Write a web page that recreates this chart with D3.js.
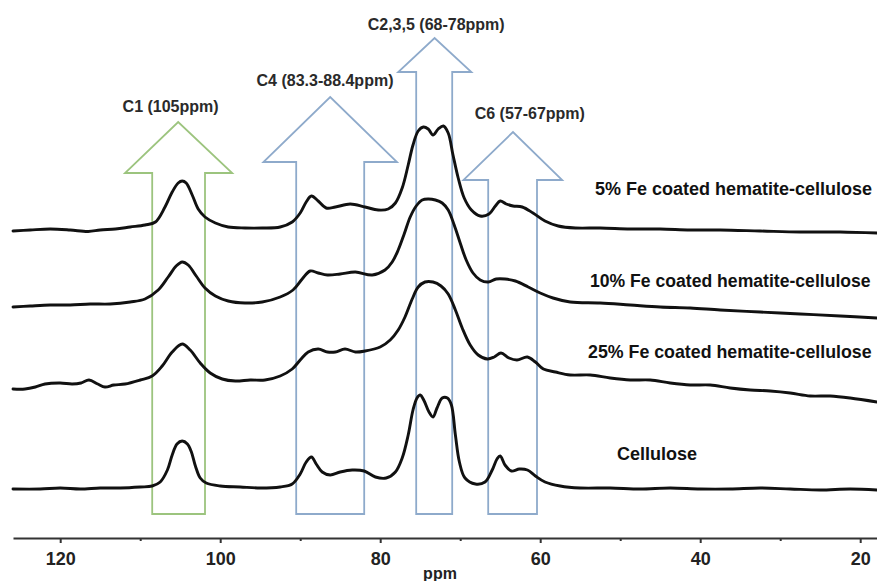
<!DOCTYPE html>
<html>
<head>
<meta charset="utf-8">
<script src="https://cdn.jsdelivr.net/npm/d3@7"></script>
<style>
  html, body { margin: 0; padding: 0; background: #fff; }
  svg { display: block; }
</style>
</head>
<body>
<svg id="chart" width="877" height="581"></svg>
<script>
// ---------------- DATA ----------------
const seriesNames = [
  "5% Fe coated hematite-cellulose",
  "10% Fe coated hematite-cellulose",
  "25% Fe coated hematite-cellulose",
  "Cellulose"
];
// vertical stacking offsets (intensity units)
const seriesOffsets = [308, 231, 149, 49];

// [ppm, relative intensity]
const fe5 = [
  [125.9,-1],[123.75,0],[121.25,1],[118.75,0],[116.5,-1.5],[115,0],[113.1,1],[111.25,3],[109.4,5],[108.1,8],
  [106.9,23],[106,38],[105.25,47],[104.75,49],[104.25,47],[103.5,35],[102.75,21],[101.9,13],[100.6,7],[99,3],
  [96.9,2],[94.75,2],[92.5,3],[91,8],[90,17],[89.25,28],[88.6,34],[87.75,29],[86.75,22],[85.6,23],
  [83.75,26],[81.9,23],[80.25,20],[79,21],[78.1,27],[77.25,42],[76.5,65],[75.9,85],[75.25,99],[74.6,103],
  [74,101],[73.4,95],[72.75,101],[72.1,104],[71.5,97],[70.9,75],[70.25,52],[69.5,32],[68.6,20],[67.5,14],
  [66.4,16],[65.6,24],[65,29],[64.25,26],[63.4,24],[62.25,23],[60.9,17],[59.4,9],[57.75,4],[55.6,2],
  [52.5,2],[48.75,1],[45,1],[41.25,0],[37.5,0],[32.5,-1],[27.5,-2],[22.5,-2],[17.9,-3]
];
const fe10 = [
  [125.9,0],[123.75,1],[121.25,2],[118.75,2],[116.25,3],[113.75,3],[111.25,5],[109.4,8],[107.75,17],[106.5,30],
  [105.5,41],[104.75,45],[104,42],[103,31],[101.9,19],[100.6,11],[99,6],[96.9,4],[94.75,5],[92.5,10],
  [90.9,17],[89.75,28],[88.75,36],[87.75,34],[86.6,32],[85,33],[83.1,35],[81,32],[79.4,37],[78.5,45],
  [77.75,57],[77,73],[76.25,90],[75.5,101],[74.75,107],[74,108],[73.1,107],[72.25,104],[71.5,97],[70.75,82],
  [70,64],[69.25,47],[68.4,34],[67.5,27],[66.5,25],[65.5,28],[64.4,28],[63.1,26],[61.5,20],[60,14],
  [58.4,9],[56.25,5],[52.5,4],[48.75,2],[45,0],[41.25,-1],[37.5,-3],[32.5,-5],[27.5,-7],[22.5,-9],[17.9,-11]
];
const fe25 = [
  [125.9,0],[124.4,0],[123.1,2],[121.9,5],[120,6],[118.5,5],[117.4,6],[116.4,9],[115.3,5],[114.4,2],
  [113.3,4],[111.9,5],[110,9],[108.5,13],[107.25,23],[106,37],[104.75,45],[103.75,39],[102.5,26],[101.25,16],
  [99.75,10],[98.1,8],[96.25,9],[94.4,9],[92.5,13],[91,20],[90,29],[89,37],[87.75,40],[86.6,37],
  [85.6,37],[84.4,40],[83.1,37],[81.9,38],[80,42],[78.75,49],[77.75,59],[76.9,72],[76,90],[75.25,102],
  [74.4,107],[73.4,107],[72.4,103],[71.5,95],[70.6,79],[69.75,61],[68.75,44],[67.75,34],[66.6,30],[65.75,32],
  [64.9,36],[63.9,31],[62.9,29],[61.6,32],[60.6,27],[59.6,20],[58.1,17],[56.25,14],[53.75,14],[51.25,11],
  [48.75,9],[46.25,9],[43.75,6],[41.25,4],[38.75,4],[36.25,1],[33.75,-1],[31.25,-2],[28.75,-4],[26.25,-7],
  [23.75,-7],[21.25,-9],[17.9,-13]
];
const cellulose = [
  [125.9,0],[122.5,0],[120,1],[117.5,0],[115,1],[112.5,1],[110,2],[108.5,3],[107.5,7],[106.6,19],
  [106,34],[105.4,45],[104.75,48],[104.1,45],[103.6,37],[103.1,23],[102.5,11],[101.75,6],[100,3],[97.5,2],
  [95,1],[92.5,2],[91,5],[90,15],[89.25,27],[88.6,32],[88,25],[87.25,17],[86.25,14],[85,17],
  [83.5,19],[82,18],[80.6,12],[79.25,11],[78.1,17],[77.25,31],[76.5,54],[75.9,79],[75.4,91],[75,94],
  [74.5,88],[73.9,77],[73.4,72],[72.9,81],[72.25,91],[71.6,91],[71.1,84],[70.6,54],[70.1,27],[69.4,11],
  [68.1,5],[66.9,7],[66,19],[65.4,30],[65,33],[64.4,24],[63.6,18],[62.6,20],[61.6,19],[60.6,13],
  [59.4,7],[57.5,3],[55,1],[51.25,1],[47.5,0],[43.75,1],[40,0],[36.25,0],[32.5,1],[28.75,0],
  [25,-1],[21.25,0],[17.9,-1]
];
const seriesData = [fe5, fe10, fe25, cellulose];

// assignment annotations
const regionLabels = ["C1 (105ppm)", "C4 (83.3-88.4ppm)", "C2,3,5 (68-78ppm)", "C6 (57-67ppm)"];

const majorTicks = [120, 100, 80, 60, 40, 20];
const minorTicks = [110, 90, 70, 50, 30];
const xTitle = "ppm";

// ---------------- LAYOUT / STYLE ----------------
const svg = d3.select("#chart");
const x = d3.scaleLinear().domain([125.9, 17.9]).range([13, 877]);
const y = d3.scaleLinear().domain([0, 520]).range([538, 18]);

// arrow geometry in chart units
const arrowGeom = [
  {shaft:[108.5,101.9], head:[111.9,98.5], tip:105.25, tipY:416, baseY:365, color:"#9cc47e"},
  {shaft:[90.5,82.0],   head:[94.6,77.9],  tip:86.25,  tipY:441, baseY:376, color:"#8eaacb"},
  {shaft:[75.5,71.0],   head:[77.75,68.6], tip:73.2,   tipY:500, baseY:466, color:"#8eaacb"},
  {shaft:[66.5,60.4],   head:[69.6,57.25], tip:63.4,   tipY:406, baseY:358, color:"#8eaacb"}
];
const arrowBottom = 24;
const labelPos = [
  {ppm:106.2, y:111.5},
  {ppm:86.9,  y:85.5},
  {ppm:73.0,  y:29.5},
  {ppm:61.3,  y:118.5}
];
const seriesLabelPos = [
  {x:595, y:194.5, size:18},
  {x:590, y:286.5, size:17.6},
  {x:588, y:357.5, size:17.8},
  {x:617, y:459.5, size:18}
];

// arrows
const gArrows = svg.append("g");
arrowGeom.forEach((a) => {
  const pts = [
    [x(a.shaft[0]), y(arrowBottom)],
    [x(a.shaft[0]), y(a.baseY)],
    [x(a.head[0]),  y(a.baseY)],
    [x(a.tip),      y(a.tipY)],
    [x(a.head[1]),  y(a.baseY)],
    [x(a.shaft[1]), y(a.baseY)],
    [x(a.shaft[1]), y(arrowBottom)]
  ];
  gArrows.append("path")
    .attr("d", d3.line()(pts) + "Z")
    .attr("fill", "none")
    .attr("stroke", a.color)
    .attr("stroke-width", 1.8)
    .attr("stroke-linejoin", "miter");
});

// region labels
regionLabels.forEach((t, i) => {
  svg.append("text")
    .attr("x", x(labelPos[i].ppm))
    .attr("y", labelPos[i].y)
    .attr("text-anchor", "middle")
    .attr("font-family", "'Liberation Sans', Arial, sans-serif")
    .attr("font-weight", "bold")
    .attr("font-size", 16)
    .attr("fill", "#2a2a2a")
    .text(t);
});

// spectra
const line = d3.line()
  .x(d => x(d[0]))
  .y(d => d[1])
  .curve(d3.curveCatmullRom.alpha(0.5));

seriesData.forEach((s, i) => {
  const pts = s.map(d => [d[0], y(d[1] + seriesOffsets[i])]);
  svg.append("path")
    .attr("d", line(pts))
    .attr("fill", "none")
    .attr("stroke", "#111")
    .attr("stroke-width", 2.9)
    .attr("stroke-linejoin", "round")
    .attr("stroke-linecap", "round");
});

// series labels
seriesNames.forEach((t, i) => {
  svg.append("text")
    .attr("x", seriesLabelPos[i].x)
    .attr("y", seriesLabelPos[i].y)
    .attr("font-family", "'Liberation Sans', Arial, sans-serif")
    .attr("font-weight", "bold")
    .attr("font-size", seriesLabelPos[i].size)
    .attr("fill", "#111")
    .text(t);
});

// x axis
const axisY = y(0);
const gMinor = svg.append("g").attr("transform", `translate(0,${axisY})`)
  .call(d3.axisBottom(x).tickValues(minorTicks).tickSize(3).tickFormat(""));
gMinor.select(".domain").remove();
gMinor.selectAll(".tick line").attr("stroke", "#333").attr("stroke-width", 2);

const gAxis = svg.append("g").attr("transform", `translate(0,${axisY})`)
  .call(d3.axisBottom(x).tickValues(majorTicks).tickSize(5).tickSizeOuter(0).tickPadding(6).tickFormat(d3.format("d")));
gAxis.select(".domain").attr("stroke", "#333").attr("stroke-width", 2.2);
gAxis.selectAll(".tick line").attr("stroke", "#333").attr("stroke-width", 2);
gAxis.selectAll(".tick text")
  .attr("font-family", "'Liberation Sans', Arial, sans-serif")
  .attr("font-weight", "bold")
  .attr("font-size", 18)
  .attr("fill", "#222")
  .attr("dy", "0.9em");

svg.append("text")
  .attr("x", 440)
  .attr("y", 579)
  .attr("text-anchor", "middle")
  .attr("font-family", "'Liberation Sans', Arial, sans-serif")
  .attr("font-weight", "bold")
  .attr("font-size", 16)
  .attr("fill", "#222")
  .text(xTitle);
</script>
</body>
</html>
